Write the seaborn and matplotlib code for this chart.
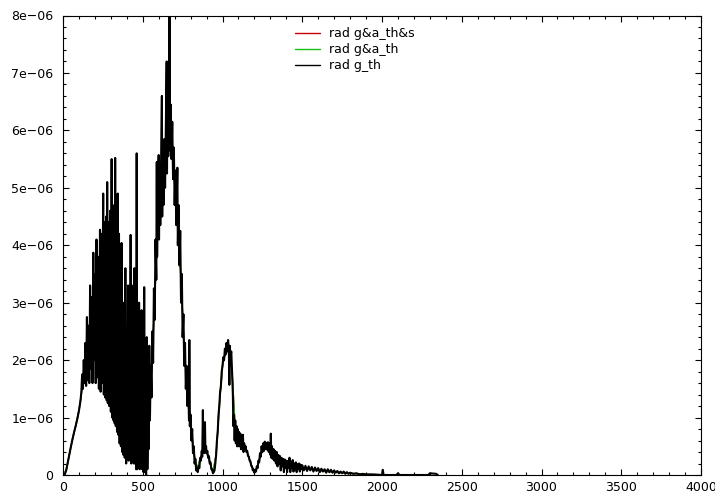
import numpy as np
import pandas as pd
import matplotlib
matplotlib.use("Agg")
import matplotlib.pyplot as plt
import seaborn as sns
from matplotlib.ticker import MultipleLocator, FuncFormatter

# ---------------- data (y in units of 1e-6) ----------------
rise_x = [0, 10, 20, 30, 40, 50, 60, 70, 80, 90, 100, 110, 115]
rise_y = [0, 0.0, 0.08, 0.22, 0.36, 0.5, 0.63, 0.75, 0.86, 0.98, 1.12, 1.3, 1.45]

band1_x = [120, 125, 130, 135, 140, 145, 150, 155, 160, 165, 170, 175, 180, 185, 190, 195, 200, 205,
           210, 215, 220, 225, 232, 236, 240, 245, 252, 256, 260, 265, 270, 274, 277, 281, 285, 290,
           295, 300, 305, 309, 313, 317, 321, 324, 327, 331, 335, 339, 343, 347, 351, 355, 359, 363,
           367, 371, 375, 379, 383, 387, 391]
band1_y = [1.75, 1.5, 2.0, 1.6, 2.3, 1.55, 2.75, 1.65, 2.6, 1.6, 3.3, 1.85, 3.1, 1.6, 3.87, 2.0, 3.5, 1.6,
           4.1, 1.7, 3.8, 1.5, 4.27, 1.45, 4.2, 1.6, 4.9, 1.4, 4.4, 1.35, 4.5, 1.3, 5.1, 1.25, 4.4, 1.2,
           4.6, 1.1, 5.5, 1.0, 4.5, 0.95, 4.7, 0.9, 5.52, 0.85, 4.6, 0.75, 4.9, 0.7, 4.2, 0.55, 2.9, 0.5,
           4.04, 0.4, 2.7, 0.35, 3.0, 0.3, 3.6]

band2_x = [396, 400, 404, 408, 412, 416, 420, 424, 428, 432, 436, 440, 444, 448, 452, 456, 459, 462,
           465, 469, 473, 477, 481, 485, 489, 493, 497, 501, 505, 509, 513, 517, 521, 525, 529, 533,
           537, 541, 545]
band2_y = [0.2, 1.6, 0.3, 3.3, 0.25, 1.7, 0.3, 4.18, 0.2, 1.5, 0.35, 3.3, 0.2, 3.6, 0.2, 1.4, 0.1, 5.6,
           0.1, 1.3, 0.2, 3.0, 0.1, 1.2, 0.15, 2.87, 0.1, 1.0, 0.05, 3.27, 0.05, 1.0, 0.0, 2.4, 0.1, 1.0,
           0.45, 2.25, 0.95]

peak2_x = [550, 555, 560, 565, 570, 575, 580, 585, 588, 590, 595, 600, 602, 605, 610, 615, 620, 622,
           625, 630, 635, 640, 645, 650, 652, 655, 660, 665, 668, 671, 675, 680, 685, 690, 695, 700,
           705, 710, 715, 717, 720, 725, 730, 735, 740, 745, 750, 755, 760, 765, 770, 775, 780, 785,
           790, 792, 795, 800, 805, 810, 815, 820, 825, 830, 835, 840, 845]
peak2_y = [1.9, 1.35, 2.5, 1.95, 3.25, 2.7, 4.1, 3.4, 5.45, 3.8, 5.2, 5.57, 4.1, 5.4, 4.35, 5.55, 6.6, 4.5,
           5.6, 4.7, 5.85, 5.0, 6.1, 7.2, 5.25, 6.4, 5.55, 6.55, 8.1, 5.65, 6.45, 5.5, 6.15, 5.15, 5.7, 4.7,
           5.3, 4.35, 5.0, 5.35, 4.0, 4.7, 3.65, 4.25, 3.0, 3.5, 2.4, 2.8, 1.9, 2.3, 1.5, 1.9, 1.2, 1.55,
           0.95, 2.35, 0.85, 1.05, 0.6, 0.8, 0.38, 0.5, 0.2, 0.28, 0.08, 0.12, 0.05]

peak3_x = [850, 855, 860, 865, 870, 873, 877, 880, 884, 887, 890, 893, 897, 900, 905, 910, 915, 920,
           925, 930, 935, 940, 945, 950]
peak3_y = [0.15, 0.12, 0.3, 0.25, 0.42, 0.32, 1.13, 0.4, 0.5, 0.38, 0.92, 0.4, 0.5, 0.38, 0.42, 0.3, 0.33,
           0.2, 0.22, 0.1, 0.1, 0.03, 0.05, 0.08]

peak4_x = [955, 960, 965, 970, 975, 980, 985, 990, 995, 1000, 1005, 1010, 1015, 1020, 1025, 1030, 1035,
           1040, 1043, 1046, 1050, 1055, 1060, 1065, 1068, 1072, 1076, 1080, 1084, 1088, 1092, 1096,
           1100, 1104, 1108, 1112, 1116, 1120, 1124, 1128, 1132, 1136, 1140, 1145, 1150, 1155, 1160,
           1165, 1170, 1175, 1180, 1185, 1190, 1195, 1200, 1205, 1210]
peak4_y = [0.2, 0.35, 0.6, 0.75, 1.05, 1.2, 1.45, 1.55, 1.8, 1.9, 2.05, 2.0, 2.2, 2.1, 2.3, 2.15, 2.35,
           2.15, 1.57, 2.25, 2.05, 2.15, 1.8, 1.4, 0.85, 1.05, 0.6, 0.95, 0.55, 0.85, 0.5, 0.8,
           0.5, 0.75, 0.5, 0.72, 0.45, 0.68, 0.45, 0.7, 0.4, 0.55, 0.45, 0.5, 0.4, 0.42, 0.33,
           0.32, 0.25, 0.24, 0.16, 0.15, 0.08, 0.1, 0.04, 0.08, 0.06]

peak5_x = [1215, 1220, 1225, 1230, 1235, 1240, 1245, 1250, 1255, 1260, 1265, 1270, 1275, 1280, 1285,
           1290, 1295, 1300, 1303, 1306, 1310]
peak5_y = [0.15, 0.12, 0.25, 0.22, 0.38, 0.32, 0.5, 0.4, 0.55, 0.42, 0.58, 0.45, 0.56, 0.44, 0.57,
           0.4, 0.55, 0.35, 0.72, 0.3, 0.5]

tail_x = [1315, 1320, 1325, 1330, 1335, 1340, 1345, 1350, 1355, 1360, 1365, 1370, 1375, 1380, 1385,
          1390, 1395, 1400, 1405, 1410, 1415, 1420, 1425, 1430, 1435, 1440, 1445, 1450, 1455, 1460,
          1465, 1470, 1475, 1480, 1485, 1490, 1495, 1500, 1510, 1520, 1530, 1540, 1550, 1560, 1570,
          1580, 1590, 1600, 1610, 1620, 1630, 1640, 1650, 1660, 1670, 1680, 1690, 1700, 1710, 1720,
          1730, 1740, 1750, 1760, 1770, 1780, 1790, 1800, 1820, 1840, 1860, 1880, 1900, 1950, 2000,
          2005, 2010, 2090, 2100, 2110, 2290, 2300, 2340, 2350]
tail_y = [0.28, 0.45, 0.25, 0.42, 0.2, 0.4, 0.15, 0.35, 0.2, 0.33, 0.08, 0.3, 0.15, 0.28, 0.05,
          0.27, 0.12, 0.25, 0.05, 0.24, 0.12, 0.3, 0.05, 0.22, 0.12, 0.26, 0.06, 0.2, 0.1, 0.22,
          0.05, 0.19, 0.1, 0.2, 0.06, 0.18, 0.1, 0.17, 0.08, 0.16, 0.07, 0.15, 0.08, 0.14, 0.06,
          0.13, 0.07, 0.12, 0.05, 0.11, 0.06, 0.1, 0.04, 0.1, 0.05, 0.09, 0.04, 0.08, 0.04, 0.07,
          0.03, 0.06, 0.03, 0.06, 0.02, 0.05, 0.02, 0.04, 0.02, 0.03, 0.01, 0.02, 0.01, 0.01, 0.0,
          0.09, 0.0, 0.0, 0.03, 0.0, 0.0, 0.03, 0.02, 0.0]

smooth_x = [0, 20, 40, 60, 80, 100, 120, 140, 160, 180, 200, 220, 240, 260, 280, 300, 320, 340, 360,
            380, 400, 420, 440, 460, 480, 500, 520, 540, 560, 580, 600, 620, 640, 660, 680, 700, 720,
            740, 760, 780, 800, 820, 840, 860, 880, 900, 920, 940, 960, 980, 1000, 1020, 1040, 1060,
            1080, 1100, 1120, 1140, 1160, 1180, 1200, 1220, 1240, 1260, 1280, 1300, 1350, 1400, 1450,
            1500, 1600, 1700, 1800, 1900, 2000]
green_y = [0, 0.08, 0.36, 0.63, 0.86, 1.12, 1.5, 1.9, 2.2, 2.5, 2.7, 2.8, 2.9, 2.9, 2.85, 2.8, 2.7, 2.6,
           2.3, 2.0, 1.2, 1.1, 1.0, 0.8, 0.6, 0.5, 0.1, 0.9, 2.1, 3.4, 4.7, 5.0, 5.5, 6.0, 5.9, 5.1, 4.45,
           3.4, 2.2, 1.45, 0.9, 0.4, 0.1, 0.28, 0.42, 0.4, 0.22, 0.05, 0.35, 1.2, 1.9, 2.15, 2.2, 1.8,
           0.8, 0.65, 0.58, 0.5, 0.36, 0.18, 0.05, 0.15, 0.35, 0.48, 0.5, 0.45, 0.28, 0.2, 0.15,
           0.12, 0.08, 0.05, 0.03, 0.01, 0.0]
red_y = [0, 0.08, 0.36, 0.63, 0.86, 1.12, 1.5, 1.9, 2.2, 2.5, 2.7, 2.8, 2.9, 2.9, 2.85, 2.8, 2.7, 2.6,
         2.3, 2.0, 1.2, 1.1, 1.0, 0.8, 0.6, 0.5, 0.1, 0.9, 2.1, 3.4, 4.7, 5.0, 5.5, 6.0, 5.9, 5.1, 4.45,
         3.4, 2.2, 1.45, 0.9, 0.4, 0.1, 0.28, 0.42, 0.4, 0.22, 0.05, 0.35, 1.2, 1.9, 2.15, 2.2, 1.8,
         0.8, 0.65, 0.58, 0.5, 0.36, 0.18, 0.05, 0.15, 0.35, 0.48, 0.5, 0.45, 0.28, 0.2, 0.15,
         0.12, 0.08, 0.05, 0.03, 0.01, 0.0]

labels = ["rad g&a_th&s", "rad g&a_th", "rad g_th"]
x_ticks = [0, 500, 1000, 1500, 2000, 2500, 3000, 3500, 4000]
UNIT = 1e-6

# ---------------- assemble ----------------
black_x = rise_x + band1_x + band2_x + peak2_x + peak3_x + peak4_x + peak5_x + tail_x
black_y = rise_y + band1_y + band2_y + peak2_y + peak3_y + peak4_y + peak5_y + tail_y

df_red = pd.DataFrame({"x": smooth_x, "y": np.array(red_y) * UNIT})
df_green = pd.DataFrame({"x": smooth_x, "y": np.array(green_y) * UNIT})
df_black = pd.DataFrame({"x": black_x, "y": np.array(black_y) * UNIT})

sns.set_style("ticks")
plt.rcParams["font.family"] = ["DejaVu Sans"]
plt.rcParams["text.color"] = "black"

fig = plt.figure(figsize=(7.15, 4.96), dpi=100)
ax = fig.add_axes([63 / 715, 21 / 496, 638 / 715, 459.5 / 496])

sns.lineplot(data=df_red, x="x", y="y", ax=ax, color="#c80000", lw=1.0,
             label=labels[0], estimator=None, sort=False)
sns.lineplot(data=df_green, x="x", y="y", ax=ax, color="#18c018", lw=1.0,
             label=labels[1], estimator=None, sort=False)
sns.lineplot(data=df_black, x="x", y="y", ax=ax, color="#000000", lw=1.5,
             label=labels[2], estimator=None, sort=False)

ax.set_xlim(0, 4000)
ax.set_ylim(0, 8e-6)
ax.set_xticks(x_ticks)
ax.xaxis.set_minor_locator(MultipleLocator(100))
ax.yaxis.set_major_locator(MultipleLocator(1e-6))
ax.yaxis.set_minor_locator(MultipleLocator(2e-7))


def yfmt(v, pos):
    if abs(v) < 1e-12:
        return "0"
    return f"{v:.0e}".replace("-", "\u2212")


ax.yaxis.set_major_formatter(FuncFormatter(yfmt))
ax.xaxis.set_major_formatter(FuncFormatter(lambda v, p: f"{int(round(v))}"))
ax.tick_params(which="both", direction="in", top=True, right=True, labelsize=9,
               colors="black", width=0.8)
ax.tick_params(which="major", length=4)
ax.tick_params(which="minor", length=2)
ax.tick_params(axis="y", pad=7)
ax.tick_params(axis="x", pad=4)
for s in ax.spines.values():
    s.set_color("black")
    s.set_linewidth(0.8)
ax.set_xlabel("")
ax.set_ylabel("")

leg = ax.legend(loc="upper left", bbox_to_anchor=(0.364, 0.975), frameon=False, fontsize=9,
                handlelength=2.0, handletextpad=0.7, labelspacing=0.25, borderpad=0,
                borderaxespad=0, labelcolor="black")
for h in leg.get_lines():
    h.set_linewidth(1.0)

fig.savefig("out.png", dpi=100)
